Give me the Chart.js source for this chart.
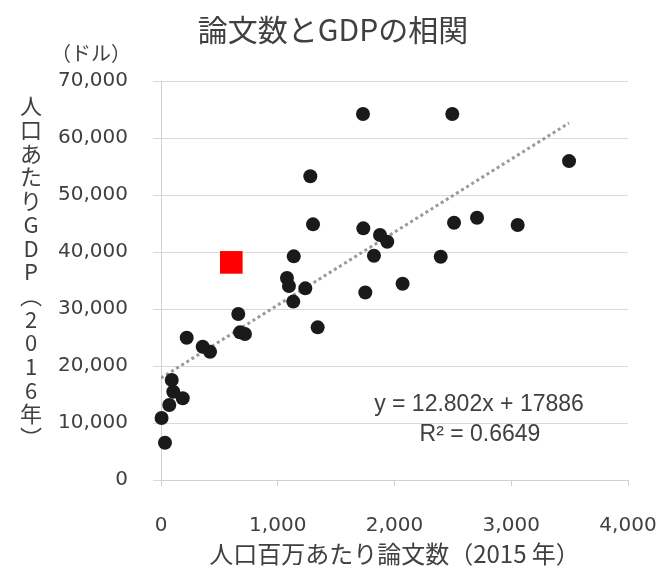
<!DOCTYPE html>
<html>
<head>
<meta charset="utf-8">
<script src="https://cdn.jsdelivr.net/npm/chart.js@4.4.1/dist/chart.umd.min.js"></script>
<style>
  html, body { margin: 0; padding: 0; background: #ffffff; }
  #wrap { width: 666px; height: 572px; position: relative; }
</style>
</head>
<body>
<div id="wrap"><canvas id="c"></canvas></div>
<script>
// ---- data ----
const chartTitle = '論文数とGDPの相関';
const xAxisTitle = '人口百万あたり論文数（2015 年）';
const yAxisTitleChars = ['人','口','あ','た','り','G','D','P','︵','2','0','1','6','年','︶'];
const yUnitLabel = '（ドル）';
const xTickValues = [0, 1000, 2000, 3000, 4000];
const xTickLabels = ['0', '1,000', '2,000', '3,000', '4,000'];
const yTickValues = [0, 10000, 20000, 30000, 40000, 50000, 60000, 70000];
const yTickLabels = ['0', '10,000', '20,000', '30,000', '40,000', '50,000', '60,000', '70,000'];

// papers per million population (2015)
const papersPerMillion = [1730, 2495, 3495, 1279, 1302, 1137, 1079, 1096, 1236, 1133,
  662, 1342, 220, 677, 719, 357, 420, 92, 105, 186, 71, 5, 34,
  1733, 1876, 1938, 1824, 2510, 2707, 3055, 2396, 2069, 1750];
// GDP per capita (2016, USD)
const gdpPerCapita = [64200, 64200, 55950, 53300, 44850, 39240, 35430, 34030, 33620, 31300,
  29120, 26780, 24960, 25900, 25610, 23380, 22500, 17540, 15490, 14330, 13150, 10870, 6540,
  44150, 42970, 41800, 39340, 45130, 46010, 44730, 39170, 34430, 32900];
// highlighted country (red square)
const highlightX = [602];
const highlightY = [38180];
// trendline shown in the chart: y = 12.802x + 17886
const trendSlope = 12.802;
const trendIntercept = 17886;
const equationText = 'y = 12.802x + 17886';
const r2Text = 'R² = 0.6649';

const points = papersPerMillion.map((x, i) => ({x: x, y: gdpPerCapita[i]}));
const highlight = highlightX.map((x, i) => ({x: x, y: highlightY[i]}));
const trendXMax = Math.max(...papersPerMillion);
const trend = [
  {x: 0, y: trendIntercept},
  {x: trendXMax, y: trendSlope * trendXMax + trendIntercept}
];

const textPlugin = {
  id: 'extraText',
  afterDraw(chart) {
    const ctx = chart.ctx;
    ctx.save();
    ctx.fillStyle = '#404040';
    // y unit label
    ctx.font = '20px "Noto Sans CJK JP"';
    ctx.textAlign = 'right';
    ctx.textBaseline = 'middle';
    ctx.fillText(yUnitLabel, 131, 53);
    // vertical y axis title
    ctx.font = '22px "Noto Sans CJK JP"';
    ctx.textAlign = 'center';
    const startY = 106, step = 23.7;
    yAxisTitleChars.forEach((ch, i) => {
      ctx.fillText(ch, 31, startY + i * step);
    });
    // equation
    ctx.font = '23px "Liberation Sans"';
    ctx.textAlign = 'center';
    ctx.fillText(equationText, 479, 405);
    ctx.fillText(r2Text, 480, 435);
    ctx.restore();
  }
};

new Chart(document.getElementById('c'), {
  type: 'scatter',
  data: {
    datasets: [
      {
        label: 'highlight',
        data: highlight,
        pointStyle: 'rect',
        pointRadius: 16,
        pointHoverRadius: 16,
        backgroundColor: '#ff0000',
        borderWidth: 0,
        clip: false
      },
      {
        label: 'countries',
        data: points,
        pointStyle: 'circle',
        pointRadius: 7,
        pointHoverRadius: 7,
        backgroundColor: '#1a1a1a',
        borderWidth: 0,
        clip: false
      },
      {
        label: 'trend',
        type: 'line',
        data: trend,
        borderColor: '#9a9a9a',
        borderWidth: 3,
        borderDash: [3, 3],
        pointRadius: 0,
        fill: false
      }
    ]
  },
  options: {
    responsive: true,
    maintainAspectRatio: false,
    animation: false,
    layout: { padding: 0 },
    plugins: {
      legend: { display: false },
      tooltip: { enabled: false },
      title: {
        display: true,
        text: chartTitle,
        color: '#404040',
        font: { family: '"Noto Sans CJK JP"', size: 30, weight: 'normal' },
        padding: { top: 12, bottom: 33 }
      }
    },
    scales: {
      x: {
        type: 'linear',
        min: 0,
        max: 4000,
        afterBuildTicks(scale) { scale.ticks = xTickValues.map(v => ({value: v})); },
        afterFit(scale) { scale.height = 92; scale.paddingLeft = 0; scale.paddingRight = 38; },
        ticks: {
          padding: 28,
          color: '#404040',
          font: { family: '"DejaVu Sans"', size: 20 },
          callback: (v) => xTickLabels[xTickValues.indexOf(v)]
        },
        grid: { drawOnChartArea: false, drawTicks: true, tickLength: 6, color: '#d0d0d0' },
        border: { display: true, color: '#d0d0d0', width: 1 },
        title: {
          display: true,
          text: xAxisTitle,
          color: '#404040',
          font: { family: '"Noto Sans CJK JP"', size: 24 },
          padding: { top: 0, bottom: 4 }
        }
      },
      y: {
        type: 'linear',
        min: 0,
        max: 70000,
        afterBuildTicks(scale) { scale.ticks = yTickValues.map(v => ({value: v})); },
        afterFit(scale) { scale.width = 161; scale.paddingTop = 0; scale.paddingBottom = 0; },
        ticks: {
          padding: 25,
          color: '#404040',
          font: { family: '"DejaVu Sans"', size: 20 },
          callback: (v) => yTickLabels[yTickValues.indexOf(v)]
        },
        grid: { color: '#d9d9d9', lineWidth: 1, drawTicks: true, tickLength: 8 },
        border: { display: true, color: '#d0d0d0', width: 1 }
      }
    }
  },
  plugins: [textPlugin]
});
</script>
</body>
</html>
